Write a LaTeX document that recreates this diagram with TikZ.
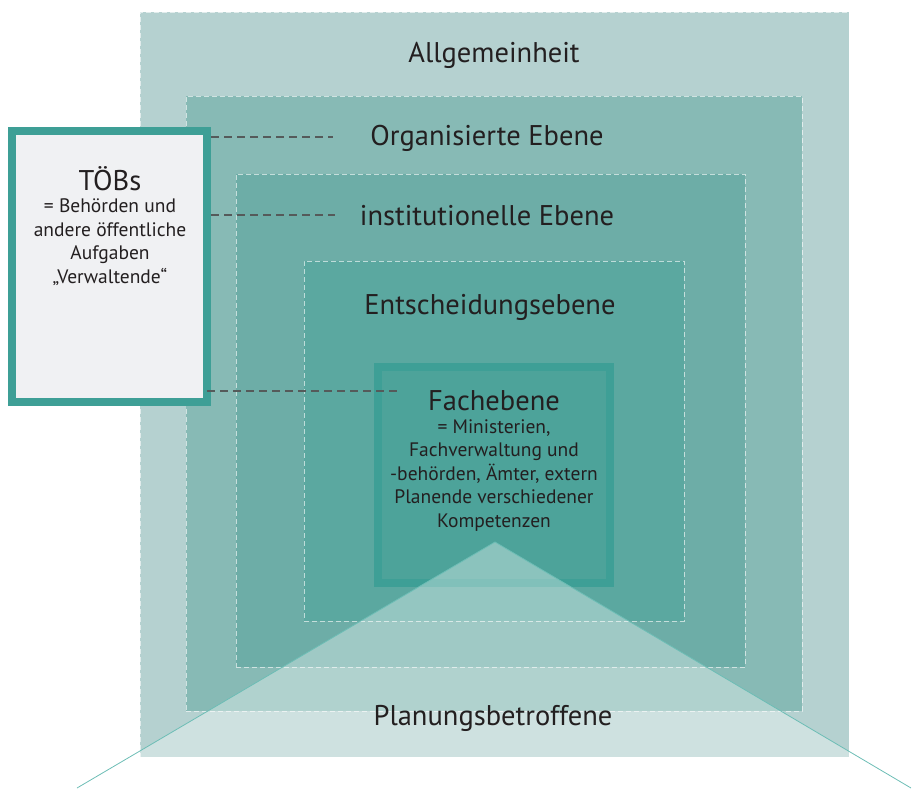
\documentclass[tikz,border=0pt]{standalone}
\usepackage{fontspec}
\setmainfont{PT Sans}
\definecolor{cOuter}{HTML}{B5D1D0}
\definecolor{cOrg}{HTML}{87BAB5}
\definecolor{cInst}{HTML}{6DADA7}
\definecolor{cEnt}{HTML}{5BA8A0}
\definecolor{cFachFill}{HTML}{4DA39A}
\definecolor{cTeal}{HTML}{3E9F96}
\definecolor{cToebFill}{HTML}{F0F1F3}
\definecolor{cText}{HTML}{231F20}
\definecolor{cFan}{HTML}{6CBDB5}
\definecolor{cConn}{HTML}{555A5A}
\tikzset{
  layer/.style={draw=white, draw opacity=0.6, line width=0.8pt, dash pattern=on 5pt off 3pt, inner sep=0pt, outer sep=0pt},
  bigtxt/.style={text=cText, font=\fontsize{28.5}{32}\selectfont, inner sep=0pt, anchor=base},
  smalltxt/.style={text=cText, font=\fontsize{19.5}{23.5}\selectfont, align=center, inner sep=0pt, anchor=base},
  conn/.style={draw=cConn, line width=1.1pt, dash pattern=on 8pt off 5pt},
  fanline/.style={draw=cFan, line width=0.8pt}
}
\begin{document}
\begin{tikzpicture}[x=1pt,y=-1pt]
\useasboundingbox (0,0) rectangle (913,788);
% layers
\node[layer, fill=cOuter, minimum width=709pt, minimum height=745pt] (outer) at (494.5,384.5) {};
\node[layer, fill=cOrg, minimum width=616pt, minimum height=615pt] (org) at (494,403.5) {};
\node[layer, fill=cInst, minimum width=509pt, minimum height=493pt] (inst) at (490.5,420.5) {};
\node[layer, fill=cEnt, minimum width=380pt, minimum height=360pt] (ent) at (494,441) {};
\node[draw=cTeal, line width=8pt, fill=cFachFill, minimum width=232pt, minimum height=216pt, inner sep=0pt, outer sep=0pt] (fach) at (494,475) {};
% fan
\coordinate (apex) at (495,542);
\coordinate (fl) at (77,788);
\coordinate (fr) at (911,788);
\begin{scope}
  \clip (outer.north west) rectangle (outer.south east);
  \fill[white, fill opacity=0.35] (apex) -- (fl) -- (fr) -- cycle;
\end{scope}
\draw[fanline] (apex) -- (fl);
\draw[fanline] (apex) -- (fr);
% labels
\node[bigtxt] (tAll) at (494,62) {Allgemeinheit};
\node[bigtxt] (tOrg) at (487,145) {Organisierte Ebene};
\node[bigtxt] (tInst) at (487,225) {institutionelle Ebene};
\node[bigtxt] (tEnt) at (490,314) {Entscheidungsebene};
\node[bigtxt] (tFach) at (494,410) {Fachebene};
\node[smalltxt] (tFachSub) at (494,527) {= Ministerien,\\Fachverwaltung und\\-behörden, Ämter, extern\\Planende verschiedener\\Kompetenzen};
\node[bigtxt] (tPlan) at (493,725) {Planungsbetroffene};
% TOEB box
\node[draw=cTeal, line width=8pt, fill=cToebFill, minimum width=195pt, minimum height=271pt, inner sep=0pt, outer sep=0pt] (toeb) at (109.5,266.5) {};
\node[bigtxt] (tToeb) at (110,190) {TÖBs};
\node[smalltxt] (tToebSub) at (110,283) {= Behörden und\\andere öffentliche\\Aufgaben\\„Verwaltende“};
% connectors
\coordinate (e1) at (333,137);
\coordinate (e2) at (335,215);
\coordinate (e3) at (400,391);
\draw[conn] ([xshift=4pt]toeb.east |- e1) -- (e1);
\draw[conn] ([xshift=4pt]toeb.east |- e2) -- (e2);
\draw[conn] (toeb.east |- e3) -- (e3);
\end{tikzpicture}
\end{document}
